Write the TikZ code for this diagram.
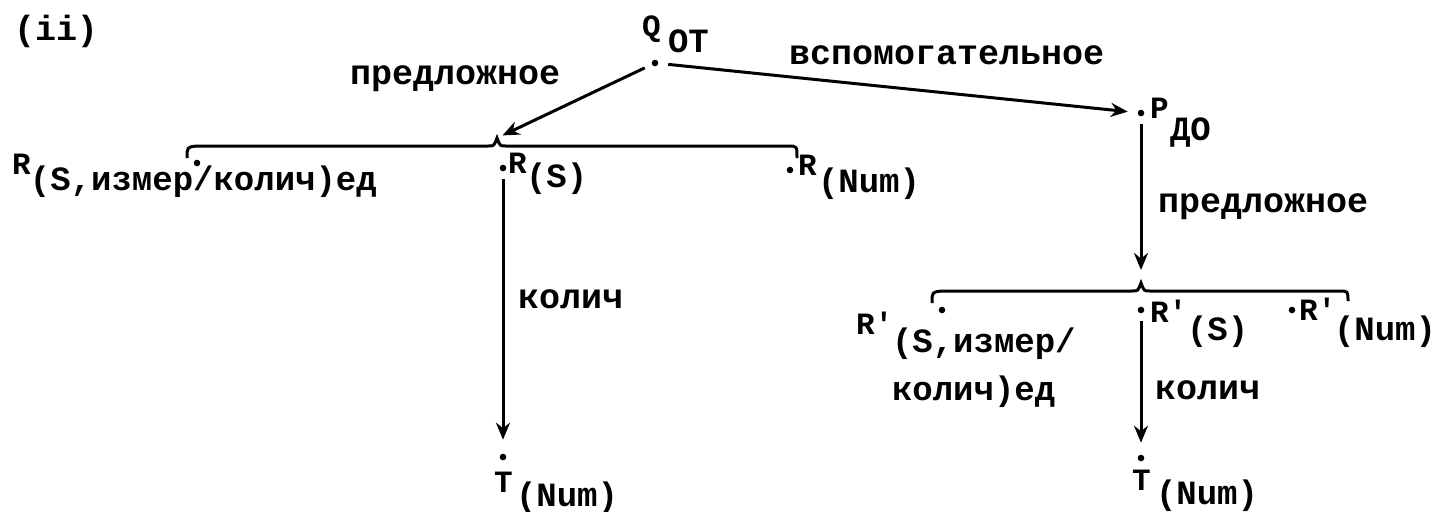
\documentclass[tikz,border=0pt]{standalone}
\usepackage{fontspec}
\newfontfamily\tw{Liberation Mono}
\usetikzlibrary{arrows.meta}
\begin{document}
\begin{tikzpicture}[x=0.5pt,y=-0.5pt,
  every node/.style={inner sep=0pt,outer sep=0pt},
  main/.style={anchor=base west,font=\tw\bfseries\fontsize{17.5pt}{20pt}\selectfont},
  sub/.style={anchor=base west,font=\tw\bfseries\fontsize{17pt}{20pt}\selectfont},
  letter/.style={anchor=base west,font=\tw\bfseries\fontsize{15.5pt}{18pt}\selectfont},
  dot/.style={circle,fill,inner sep=0pt,minimum size=3.3pt},
  conn/.style={line width=1.5pt,-{Stealth[length=8.5pt,width=7pt]}},
  bracestyle/.style={line width=1.5pt}]
\useasboundingbox (0,0) rectangle (1436,511);
% labels
\node[main] (ii) at (14,40) {(ii)};
\node[letter] (qL) at (642,36) {Q};
\node[sub] (qS) at (668,52) {OT};
\node[main] (lpred) at (350,84) {предложное};
\node[main] (vsp) at (789,64) {вспомогательное};
\node[letter] (pL) at (1150,118) {P};
\node[sub] (pS) at (1170,140) {ДО};
\node[letter] (r1L) at (12,174) {R};
\node[sub] (r1S) at (30,190) {(S,измер/колич)ед};
\node[letter] (r2L) at (508,173) {R};
\node[sub] (r2S) at (526,187) {(S)};
\node[letter] (r3L) at (798,175) {R};
\node[sub] (r3S) at (818,192) {(Num)};
\node[main] (lkol) at (518,308) {колич};
\node[letter] (t1L) at (494,492) {T};
\node[sub] (t1S) at (516,506) {(Num)};
\node[main] (rpred) at (1158,212) {предложное};
\node[letter] (r4L) at (856,334) {R'};
\node[sub] (r4S) at (892,352) {(S,измер/};
\node[sub] (r4S2) at (892,400) {колич)ед};
\node[letter] (r5L) at (1150,322) {R'};
\node[sub] (r5S) at (1187,340) {(S)};
\node[letter] (r6L) at (1299,320) {R'};
\node[sub] (r6S) at (1334,340) {(Num)};
\node[main] (rkol) at (1155,399) {колич};
\node[letter] (t2L) at (1132,490) {T};
\node[sub] (t2S) at (1156,504) {(Num)};
% dots
\node[dot] (q) at (655,63) {};
\node[dot] (p) at (1141,113) {};
\node[dot] (r1) at (197,163) {};
\node[dot] (r2) at (503,168) {};
\node[dot] (r3) at (790,170) {};
\node[dot] (t1) at (503,457) {};
\node[dot] (r4) at (942,310) {};
\node[dot] (r5) at (1141,310) {};
\node[dot] (r6) at (1292,310) {};
\node[dot] (t2) at (1141,458) {};
% brace tips
\coordinate (bl) at (497,138);
\coordinate (br) at (1141,283);
% braces
\draw[bracestyle] (187,158) .. controls (187,147) .. (197,146) -- (488,146)
  .. controls (494,146) .. (bl) .. controls (500,146) .. (506,146) -- (788,146)
  .. controls (797,146) .. (797,158);
\draw[bracestyle] (932,303) .. controls (932,292) .. (942,291) -- (1132,291)
  .. controls (1138,291) .. (br) .. controls (1144,291) .. (1150,291) -- (1339,291)
  .. controls (1348,291) .. (1348,301);
% connectors
\draw[conn,shorten <=4pt,shorten >=3pt] (q) -- (bl);
\draw[conn,shorten <=5pt,shorten >=5pt] (q) -- (p);
\draw[conn,shorten <=4pt,shorten >=6.5pt] (p) -- (br);
\draw[conn,shorten <=4pt,shorten >=7pt] (r2) -- (t1);
\draw[conn,shorten <=4pt,shorten >=6pt] (r5) -- (t2);
\end{tikzpicture}
\end{document}
